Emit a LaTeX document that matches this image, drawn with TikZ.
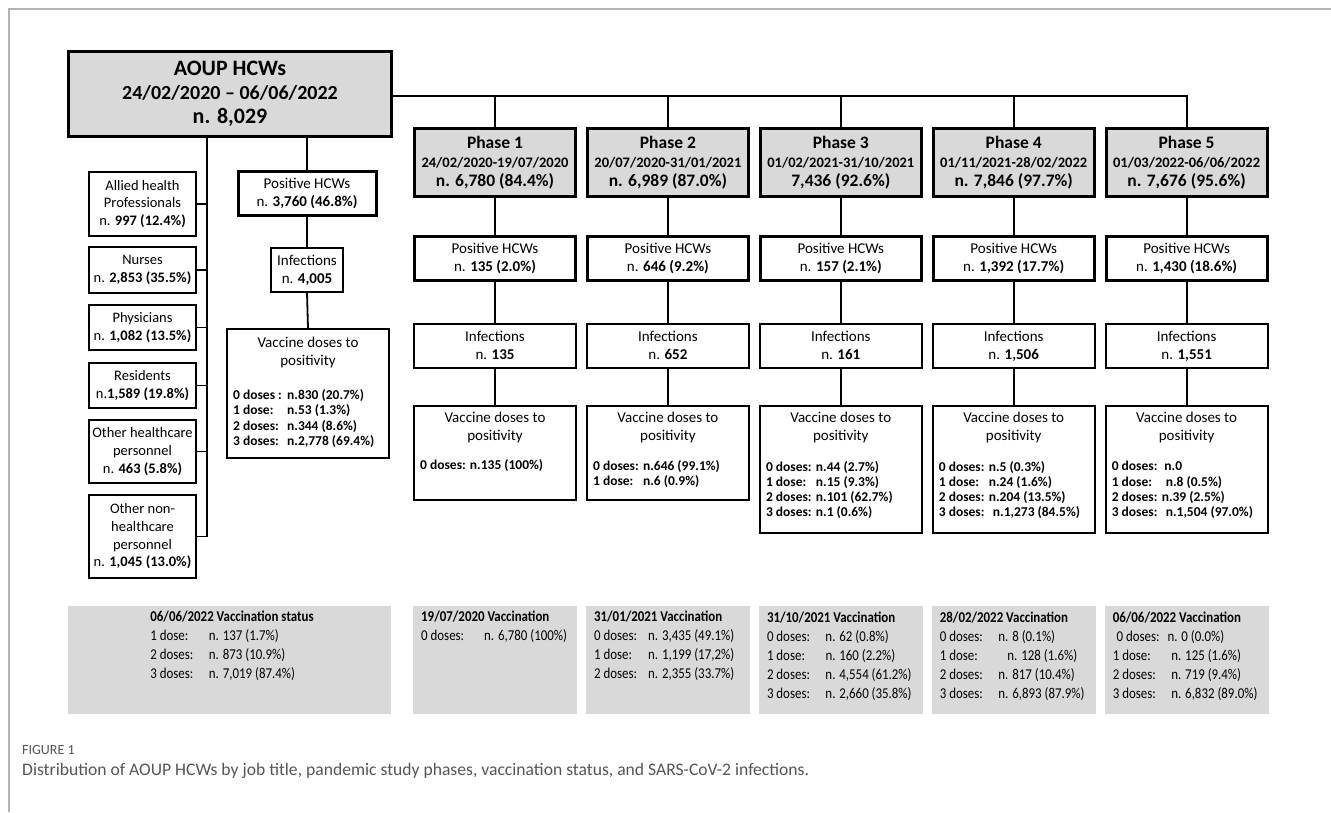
\documentclass[tikz,border=0pt]{standalone}
\usepackage{fontspec}
\setmainfont{Carlito}
\newfontfamily\narrowfont[FakeStretch=0.86]{Carlito}
\usetikzlibrary{calc}
\definecolor{boxgray}{HTML}{D9D9D9}
\definecolor{framegray}{HTML}{B4B4B4}
\definecolor{captiongray}{HTML}{555555}
\newcommand{\doseline}[3][3.7em]{\makebox[#1][l]{#2}#3}

\begin{document}
\begin{tikzpicture}[x=1pt, y=-1pt,
        main_style/.style={draw=black, line width=3pt, fill=boxgray, minimum width=323pt, minimum height=85pt, align=center, inner sep=0pt, font=\bfseries\fontsize{22}{24}\selectfont},
        phase_style/.style={draw=black, line width=3pt, fill=boxgray, minimum width=161pt, minimum height=68pt, align=center, inner sep=0pt, font=\bfseries\fontsize{17.5}{19}\selectfont},
        pos_style/.style={draw=black, line width=3pt, minimum width=161pt, minimum height=44pt, align=center, inner sep=0pt, font=\fontsize{15}{18}\selectfont, execute at end node={\vphantom{(,}}},
        inf_style/.style={draw=black, line width=1.8pt, minimum width=162pt, minimum height=44pt, align=center, inner sep=0pt, font=\fontsize{15}{18}\selectfont, execute at end node={\vphantom{(,}}},
        vac_style/.style={draw=black, line width=1.8pt, minimum width=162pt, inner sep=0pt},
        job_style/.style={draw=black, line width=1.8pt, minimum width=107pt, align=center, inner sep=0pt, font=\fontsize{14.5}{17.7}\selectfont, execute at end node={\vphantom{(,}}},
        head_style/.style={align=center, inner sep=0pt, font=\fontsize{15}{18}\selectfont},
        dose_style/.style={anchor=west, align=left, inner sep=0pt, font=\bfseries\fontsize{13.5}{15.3}\selectfont},
        grey_style/.style={fill=boxgray, minimum width=164pt, minimum height=108pt, inner sep=0pt},
        grey_text_style/.style={anchor=west, align=left, inner sep=0pt, font=\narrowfont\fontsize{15}{19}\selectfont},
        edge_style/.style={draw=black, line width=1.8pt}]

        \useasboundingbox (0,0) rectangle (1331,812);
        \draw [framegray, line width=1.5pt] (9,812) -- (9,9) -- (1331,9);

        % whole population
        \node [main_style] (main) at (230,94) {AOUP HCWs\\{\fontsize{20}{24}\selectfont 24/02/2020 – 06/06/2022}\\n. 8,029};

        % job titles
        \node [job_style, minimum height=64pt] (j1) at (142.5,204) {Allied health\\Professionals\\n. \textbf{997 (12.4\%)}};
        \node [job_style, minimum height=46pt] (j2) at (142.5,270) {Nurses\\n. \textbf{2,853 (35.5\%)}};
        \node [job_style, minimum height=45pt] (j3) at (142.5,327.5) {Physicians\\n. \textbf{1,082 (13.5\%)}};
        \node [job_style, minimum height=45pt] (j4) at (142.5,385.5) {Residents\\n.\textbf{1,589 (19.8\%)}};
        \node [job_style, minimum height=63pt] (j5) at (142.5,451.5) {Other healthcare\\personnel\\n. \textbf{463 (5.8\%)}};
        \node [job_style, minimum height=83pt] (j6) at (142.5,536.5) {Other non-\\healthcare\\personnel\\n. \textbf{1,045 (13.0\%)}};
        \coordinate (trunk) at (207,536.5);

        % whole study period
        \node [pos_style, minimum width=138pt] (pos0) at (307,193.5) {Positive HCWs\\n. \textbf{3,760 (46.8\%)}};
        \node [inf_style, minimum width=72pt] (inf0) at (307,270) {Infections\\n. \textbf{4,005}};
        \node [vac_style, minimum height=129pt] (vac0) at (308,393.5) {};
        \node [head_style] (vac0h) at (308,352) {Vaccine doses to\\positivity};
        \node [dose_style] (vac0d) at (233,418.5) {\doseline[4em]{0 doses :}{n.830 (20.7\%)}\\\doseline[4em]{1 dose:}{n.53 (1.3\%)}\\\doseline[4em]{2 doses:}{n.344 (8.6\%)}\\\doseline[4em]{3 doses:}{n.2,778 (69.4\%)}};

        % phases
        \node [phase_style] (p1) at (495,162.5) {Phase 1\\{\fontsize{14.5}{19}\selectfont 24/02/2020-19/07/2020}\\n. 6,780 (84.4\%)};
        \node [phase_style] (p2) at (667.9,162.5) {Phase 2\\{\fontsize{14.5}{19}\selectfont 20/07/2020-31/01/2021}\\n. 6,989 (87.0\%)};
        \node [phase_style] (p3) at (840.8,162.5) {Phase 3\\{\fontsize{14.5}{19}\selectfont 01/02/2021-31/10/2021}\\7,436 (92.6\%)};
        \node [phase_style] (p4) at (1013.7,162.5) {Phase 4\\{\fontsize{14.5}{19}\selectfont 01/11/2021-28/02/2022}\\n. 7,846 (97.7\%)};
        \node [phase_style] (p5) at (1186.6,162.5) {Phase 5\\{\fontsize{14.5}{19}\selectfont 01/03/2022-06/06/2022}\\n. 7,676 (95.6\%)};
        \coordinate (bus) at (1186.6,96);

        \node [pos_style] (pos1) at (495,258.5) {Positive HCWs\\n. \textbf{135 (2.0\%)}};
        \node [pos_style] (pos2) at (667.9,258.5) {Positive HCWs\\n. \textbf{646 (9.2\%)}};
        \node [pos_style] (pos3) at (840.8,258.5) {Positive HCWs\\n. \textbf{157 (2.1\%)}};
        \node [pos_style] (pos4) at (1013.7,258.5) {Positive HCWs\\n. \textbf{1,392 (17.7\%)}};
        \node [pos_style] (pos5) at (1186.6,258.5) {Positive HCWs\\n. \textbf{1,430 (18.6\%)}};

        \node [inf_style] (inf1) at (495,346) {Infections\\n. \textbf{135}};
        \node [inf_style] (inf2) at (667.9,346) {Infections\\n. \textbf{652}};
        \node [inf_style] (inf3) at (840.8,346) {Infections\\n. \textbf{161}};
        \node [inf_style] (inf4) at (1013.7,346) {Infections\\n. \textbf{1,506}};
        \node [inf_style] (inf5) at (1186.6,346) {Infections\\n. \textbf{1,551}};

        \node [vac_style, minimum height=94pt] (vac1) at (495,453) {};
        \node [vac_style, minimum height=94pt] (vac2) at (667.9,453) {};
        \node [vac_style, minimum height=127pt] (vac3) at (840.8,469.5) {};
        \node [vac_style, minimum height=127pt] (vac4) at (1013.7,469.5) {};
        \node [vac_style, minimum height=127pt] (vac5) at (1186.6,469.5) {};
        \node [head_style] (vac1h) at (495,427) {Vaccine doses to\\positivity};
        \node [head_style] (vac2h) at (667.9,427) {Vaccine doses to\\positivity};
        \node [head_style] (vac3h) at (840.8,427) {Vaccine doses to\\positivity};
        \node [head_style] (vac4h) at (1013.7,427) {Vaccine doses to\\positivity};
        \node [head_style] (vac5h) at (1186.6,427) {Vaccine doses to\\positivity};
        \node [dose_style] (vac1d) at (420,466) {0 doses: n.135 (100\%)};
        \node [dose_style] (vac2d) at (592.9,474) {\doseline{0 doses:}{n.646 (99.1\%)}\\\doseline{1 dose:}{n.6 (0.9\%)}};
        \node [dose_style] (vac3d) at (765.8,490) {\doseline{0 doses:}{n.44 (2.7\%)}\\\doseline{1 dose:}{n.15 (9.3\%)}\\\doseline{2 doses:}{n.101 (62.7\%)}\\\doseline{3 doses:}{n.1 (0.6\%)}};
        \node [dose_style] (vac4d) at (938.7,490) {\doseline{0 doses:}{n.5 (0.3\%)}\\\doseline{1 dose:}{n.24 (1.6\%)}\\\doseline{2 doses:}{n.204 (13.5\%)}\\\doseline[4em]{3 doses:}{n.1,273 (84.5\%)}};
        \node [dose_style] (vac5d) at (1111.6,490) {\doseline[3.9em]{0 doses:}{n.0}\\\doseline[4em]{1 dose:}{n.8 (0.5\%)}\\\doseline{2 doses:}{n.39 (2.5\%)}\\\doseline[4em]{3 doses:}{n.1,504 (97.0\%)}};

        % vaccination status at the end of each period
        \node [grey_style, minimum width=323pt] (g1) at (229.5,660) {};
        \node [grey_style] (g2) at (495,660) {};
        \node [grey_style] (g3) at (667.9,660) {};
        \node [grey_style] (g4) at (840.8,660) {};
        \node [grey_style] (g5) at (1013.7,660) {};
        \node [grey_style] (g6) at (1186.6,660) {};
        \node [grey_text_style, anchor=center] (g1t) at (232,646) {\textbf{06/06/2022 Vaccination status}\\\doseline[3.9em]{1 dose:}{n. 137 (1.7\%)}\\\doseline[3.9em]{2 doses:}{n. 873 (10.9\%)}\\\doseline[3.9em]{3 doses:}{n. 7,019 (87.4\%)}};
        \node [grey_text_style] (g2t) at (421,627) {\textbf{19/07/2020 Vaccination}\\\doseline[4.2em]{0 doses:}{n. 6,780 (100\%)}};
        \node [grey_text_style] (g3t) at (593.9,646) {\textbf{31/01/2021 Vaccination}\\\doseline[3.6em]{0 doses:}{n. 3,435 (49.1\%)}\\\doseline[3.6em]{1 dose:}{n. 1,199 (17,2\%)}\\\doseline[3.6em]{2 doses:}{n. 2,355 (33.7\%)}};
        \node [grey_text_style] (g4t) at (766.8,656) {\textbf{31/10/2021 Vaccination}\\\doseline[3.9em]{0 doses:}{n. 62 (0.8\%)}\\\doseline[3.9em]{1 dose:}{n. 160 (2.2\%)}\\\doseline[3.9em]{2 doses:}{n. 4,554 (61.2\%)}\\\doseline[3.9em]{3 doses:}{n. 2,660 (35.8\%)}};
        \node [grey_text_style] (g5t) at (939.7,656) {\textbf{28/02/2022 Vaccination}\\\doseline[3.9em]{0 doses:}{n. 8 (0.1\%)}\\\doseline[4.5em]{1 dose:}{n. 128 (1.6\%)}\\\doseline[3.9em]{2 doses:}{n. 817 (10.4\%)}\\\doseline[3.9em]{3 doses:}{n. 6,893 (87.9\%)}};
        \node [grey_text_style] (g6t) at (1112.6,656) {\textbf{06/06/2022 Vaccination}\\\hspace*{0.25em}\doseline[3.4em]{0 doses:}{n. 0 (0.0\%)}\\\doseline[3.9em]{1 dose:}{n. 125 (1.6\%)}\\\doseline[3.9em]{2 doses:}{n. 719 (9.4\%)}\\\doseline[3.9em]{3 doses:}{n. 6,832 (89.0\%)}};

        % caption
        \node [anchor=west, inner sep=0pt, text=captiongray, font=\fontsize{14}{15}\selectfont] (figlabel) at (22,750) {FIGURE 1};
        \node [anchor=west, inner sep=0pt, text=captiongray, font=\fontsize{17.6}{20}\selectfont] (caption) at (22,771) {Distribution of AOUP HCWs by job title, pandemic study phases, vaccination status, and SARS-CoV-2 infections.};

        % connectors
        \draw [edge_style] (trunk |- main.south) -- (trunk);
        \draw [edge_style] (j1.east) -- (j1.east -| trunk);
        \draw [edge_style] (j2.east) -- (j2.east -| trunk);
        \draw [edge_style] (j3.east) -- (j3.east -| trunk);
        \draw [edge_style] (j4.east) -- (j4.east -| trunk);
        \draw [edge_style] (j5.east) -- (j5.east -| trunk);
        \draw [edge_style] (j6.east) -- (trunk);

        \draw [edge_style] (pos0.north |- main.south) -- (pos0.north);
        \draw [edge_style] (pos0) -- (inf0);
        \draw [edge_style] (inf0.south) -- (vac0.north);

        \draw [edge_style] (main.east |- bus) -- (bus) -- (p5.north);
        \draw [edge_style] (p1.north |- bus) -- (p1.north);
        \draw [edge_style] (p2.north |- bus) -- (p2.north);
        \draw [edge_style] (p3.north |- bus) -- (p3.north);
        \draw [edge_style] (p4.north |- bus) -- (p4.north);

        \draw [edge_style] (p1.south) -- (pos1.north);
        \draw [edge_style] (p2.south) -- (pos2.north);
        \draw [edge_style] (p3.south) -- (pos3.north);
        \draw [edge_style] (p4.south) -- (pos4.north);
        \draw [edge_style] (p5.south) -- (pos5.north);

        \draw [edge_style] (pos1.south) -- (inf1.north);
        \draw [edge_style] (pos2.south) -- (inf2.north);
        \draw [edge_style] (pos3.south) -- (inf3.north);
        \draw [edge_style] (pos4.south) -- (inf4.north);
        \draw [edge_style] (pos5.south) -- (inf5.north);

        \draw [edge_style] (inf1.south) -- (vac1.north);
        \draw [edge_style] (inf2.south) -- (vac2.north);
        \draw [edge_style] (inf3.south) -- (vac3.north);
        \draw [edge_style] (inf4.south) -- (vac4.north);
        \draw [edge_style] (inf5.south) -- (vac5.north);

\end{tikzpicture}
\end{document}
